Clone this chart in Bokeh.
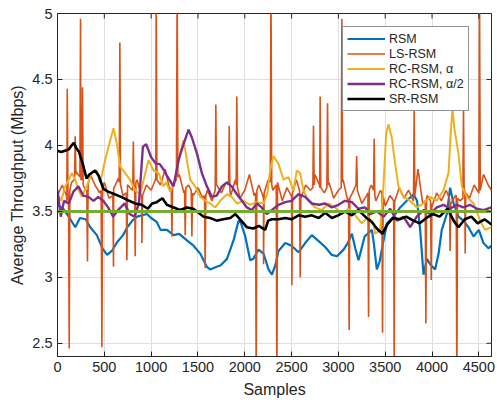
import numpy as np
from bokeh.plotting import figure
from bokeh.models import Legend, LegendItem, FixedTicker, Range1d
from bokeh.embed import file_html
from bokeh.resources import INLINE

# ---------------- data ----------------
x_ticks = [0, 500, 1000, 1500, 2000, 2500, 3000, 3500, 4000, 4500]
y_ticks = [2.5, 3.0, 3.5, 4.0, 4.5, 5.0]
y_tick_labels = {2.5: "2.5", 3.0: "3", 3.5: "3.5", 4.0: "4", 4.5: "4.5", 5.0: "5"}
n_samples = 4635
y_min, y_max = 2.4, 5.0
target_level = 3.5

rsm_x = [0, 60, 120, 190, 240, 300, 350, 420, 480, 530, 580, 640, 700, 745, 800, 850, 900, 955,
         1000, 1060, 1100, 1170, 1240, 1300, 1382, 1453, 1524, 1595, 1630, 1700, 1740, 1810, 1880,
         1934, 1960, 2005, 2058, 2090, 2147, 2200, 2254, 2290, 2330, 2360, 2432, 2500, 2574, 2645,
         2716, 2780, 2859, 2930, 2985, 3055, 3100, 3144, 3180, 3215, 3280, 3357, 3380, 3410, 3440,
         3482, 3520, 3588, 3660, 3730, 3802, 3840, 3873, 3909, 3945, 3980, 4033, 4070, 4104, 4158,
         4193, 4230, 4282, 4335, 4389, 4443, 4500, 4549, 4603, 4635]
rsm_y = [3.55, 3.52, 3.46, 3.38, 3.45, 3.44, 3.38, 3.32, 3.22, 3.17, 3.20, 3.27, 3.32, 3.38, 3.43,
         3.46, 3.47, 3.48, 3.45, 3.42, 3.36, 3.36, 3.32, 3.33, 3.28, 3.24, 3.18, 3.08, 3.06, 3.08,
         3.09, 3.14, 3.28, 3.43, 3.41, 3.31, 3.13, 3.14, 3.21, 3.18, 3.06, 3.02, 3.10, 3.20, 3.26,
         3.24, 3.19, 3.26, 3.32, 3.28, 3.23, 3.17, 3.16, 3.21, 3.26, 3.33, 3.22, 3.13, 3.31, 3.36,
         3.25, 3.06, 3.12, 3.28, 3.41, 3.46, 3.53, 3.58, 3.63, 3.58, 3.36, 3.02, 3.14, 3.10, 3.06,
         3.18, 3.36, 3.48, 3.68, 3.56, 3.46, 3.43, 3.38, 3.31, 3.36, 3.26, 3.22, 3.24]

ls_base_x = [0, 50, 100, 150, 200, 250, 300, 350, 400, 450, 500, 550, 600, 650, 700, 750, 800, 850,
             900, 950, 1000, 1050, 1100, 1150, 1200, 1250, 1300, 1350, 1400, 1450, 1500, 1550, 1600,
             1650, 1700, 1750, 1800, 1850, 1900, 1950, 2000, 2050, 2100, 2150, 2200, 2250, 2300,
             2350, 2400, 2450, 2500, 2550, 2600, 2650, 2700, 2750, 2800, 2850, 2900, 2950, 3000,
             3050, 3100, 3150, 3200, 3250, 3300, 3350, 3400, 3450, 3500, 3550, 3600, 3650, 3700,
             3750, 3800, 3850, 3900, 3950, 4000, 4050, 4100, 4150, 4200, 4250, 4300, 4350, 4400,
             4450, 4500, 4550, 4600, 4635]
ls_base_y = [3.62, 3.70, 3.58, 3.72, 3.80, 3.74, 3.66, 3.78, 3.70, 3.64, 3.72, 3.60, 3.68, 3.75,
             3.62, 3.70, 3.66, 3.74, 3.60, 3.70, 3.66, 3.76, 3.70, 3.82, 3.66, 3.72, 3.78, 3.64,
             3.70, 3.62, 3.68, 3.60, 3.66, 3.58, 3.70, 3.64, 3.72, 3.62, 3.74, 3.60, 3.66, 3.78,
             3.62, 3.70, 3.60, 3.74, 3.66, 3.72, 3.58, 3.68, 3.62, 3.74, 3.60, 3.70, 3.66, 3.78,
             3.68, 3.64, 3.72, 3.60, 3.66, 3.74, 3.58, 3.64, 3.76, 3.56, 3.62, 3.70, 3.58, 3.66,
             3.54, 3.62, 3.56, 3.68, 3.60, 3.66, 3.58, 3.82, 3.56, 3.62, 3.54, 3.64, 3.58, 3.66,
             3.56, 3.62, 3.58, 3.66, 3.60, 3.70, 3.64, 3.78, 3.70, 3.66]
ls_spike_x = [96, 104, 112, 118, 125, 132, 182, 189, 196, 239, 246, 253, 261, 267, 274,
              313, 320, 327, 466, 474, 482, 591, 598, 605, 659, 666, 673, 734, 741, 748,
              803, 810, 817, 824, 830, 837, 894, 901, 908, 1046, 1054, 1062, 1215, 1222, 1229,
              1270, 1278, 1286, 1357, 1364, 1371, 1428, 1435, 1442, 1570, 1577, 1584,
              1684, 1691, 1698, 1827, 1834, 1841, 1908, 1915, 1922, 2115, 2122, 2129,
              2193, 2200, 2207, 2272, 2280, 2288, 2336, 2343, 2350, 2496, 2503, 2510,
              2585, 2592, 2599, 2727, 2734, 2741, 2798, 2805, 2812, 2877, 2884, 2891,
              3030, 3037, 3044, 3108, 3115, 3122, 3188, 3195, 3202, 3315, 3322, 3329,
              3375, 3382, 3389, 3464, 3471, 3478, 3590, 3596, 3603, 3802, 3809, 3816,
              3927, 3934, 3941, 3984, 3991, 3998, 4186, 4193, 4200, 4258, 4265, 4272,
              4329, 4336, 4343, 4348, 4354, 4360, 4499, 4507, 4515]
ls_spike_y = [3.62, 4.43, 3.64, 3.62, 2.46, 3.66, 3.74, 4.07, 3.78, 3.76, 4.96, 3.74, 3.74, 4.44, 3.70,
              3.66, 3.12, 3.70, 3.66, 2.47, 3.68, 3.62, 3.08, 3.68, 3.72, 4.78, 3.70, 3.64, 3.13, 3.70,
              3.66, 4.03, 3.68, 3.70, 3.16, 3.72, 3.62, 3.26, 3.62, 3.74, 5.20, 3.74, 3.68, 3.31, 3.70,
              3.74, 5.20, 3.76, 3.66, 3.32, 3.68, 3.66, 3.31, 3.64, 3.62, 3.07, 3.62,
              3.66, 4.31, 3.70, 3.70, 4.15, 3.66, 3.70, 4.37, 3.68, 3.64, 2.20, 3.66,
              3.62, 3.10, 3.64, 3.72, 5.20, 3.70, 3.70, 2.20, 3.72, 3.62, 2.94, 3.64,
              3.66, 3.00, 3.62, 3.68, 4.15, 3.70, 3.70, 4.37, 3.68, 3.68, 4.32, 3.70,
              3.68, 4.96, 3.72, 3.60, 2.60, 3.60, 3.70, 3.92, 3.66, 3.64, 2.70, 3.66,
              3.66, 4.05, 3.62, 3.64, 2.58, 3.62, 3.58, 2.20, 3.58, 3.60, 4.27, 3.62,
              3.58, 2.65, 3.60, 3.58, 2.98, 3.56, 3.60, 3.20, 3.56, 3.62, 2.20, 3.60,
              3.60, 4.27, 3.64, 3.64, 3.18, 3.64, 3.64, 5.20, 3.66]

rca_x = [0, 40, 82, 120, 153, 190, 225, 260, 310, 367, 420, 456, 509, 563, 598, 635, 670, 723, 775,
         830, 885, 937, 972, 1025, 1080, 1132, 1160, 1204, 1257, 1311, 1346, 1382, 1417, 1470, 1524,
         1578, 1631, 1685, 1738, 1809, 1860, 1916, 1987, 2058, 2129, 2200, 2240, 2271, 2307, 2360,
         2414, 2467, 2520, 2556, 2591, 2627, 2680, 2752, 2823, 2894, 2965, 3037, 3108, 3179, 3250,
         3318, 3375, 3392, 3446, 3481, 3510, 3535, 3570, 3606, 3642, 3695, 3766, 3837, 3909, 3980,
         4051, 4122, 4176, 4200, 4218, 4240, 4282, 4318, 4371, 4443, 4514, 4565, 4635]
rca_y = [3.63, 3.58, 3.69, 3.74, 3.79, 3.74, 3.66, 3.61, 3.69, 3.79, 3.81, 3.72, 3.89, 4.04, 4.13,
         4.01, 3.84, 3.79, 3.74, 3.66, 3.63, 3.79, 3.89, 3.81, 3.79, 3.69, 3.72, 3.65, 3.74, 3.94,
         4.04, 3.89, 3.74, 3.69, 3.61, 3.58, 3.56, 3.53, 3.58, 3.63, 3.61, 3.56, 3.58, 3.55, 3.57,
         3.56, 3.63, 3.81, 3.92, 3.86, 3.74, 3.76, 3.66, 3.81, 3.79, 3.66, 3.58, 3.53, 3.51, 3.56,
         3.53, 3.48, 3.52, 3.47, 3.41, 3.46, 3.41, 3.33, 3.36, 3.69, 4.09, 4.16, 4.06, 3.86, 3.69,
         3.61, 3.58, 3.53, 3.56, 3.61, 3.58, 3.66, 3.79, 4.10, 4.28, 4.12, 3.94, 3.69, 3.61, 3.56,
         3.43, 3.36, 3.38]

rch_x = [0, 35, 70, 120, 170, 223, 275, 330, 385, 435, 490, 540, 595, 647, 717, 770, 823, 870, 912,
         947, 1000, 1053, 1090, 1140, 1168, 1240, 1293, 1346, 1400, 1435, 1489, 1542, 1595, 1649,
         1700, 1756, 1809, 1860, 1916, 1970, 2022, 2075, 2129, 2180, 2236, 2289, 2360, 2432, 2500,
         2574, 2645, 2716, 2790, 2859, 2930, 3001, 3070, 3144, 3215, 3286, 3339, 3410, 3482, 3553,
         3624, 3695, 3766, 3837, 3909, 3980, 4051, 4122, 4193, 4264, 4335, 4406, 4478, 4549, 4635]
rch_y = [3.66, 3.46, 3.58, 3.56, 3.65, 3.69, 3.62, 3.61, 3.58, 3.61, 3.58, 3.53, 3.46, 3.51, 3.56,
         3.48, 3.46, 3.56, 3.99, 4.01, 3.91, 3.86, 3.86, 3.81, 3.77, 3.69, 3.89, 4.01, 4.12, 4.06,
         3.94, 3.79, 3.69, 3.61, 3.62, 3.69, 3.72, 3.69, 3.63, 3.58, 3.53, 3.51, 3.56, 3.53, 3.48,
         3.51, 3.55, 3.57, 3.58, 3.63, 3.61, 3.56, 3.55, 3.56, 3.53, 3.55, 3.58, 3.57, 3.52, 3.53,
         3.48, 3.50, 3.46, 3.52, 3.43, 3.46, 3.38, 3.46, 3.51, 3.48, 3.53, 3.55, 3.52, 3.55, 3.53,
         3.55, 3.52, 3.51, 3.53]

sr_x = [0, 40, 80, 120, 150, 175, 200, 230, 270, 310, 340, 400, 440, 490, 540, 610, 680, 750, 830,
        900, 965, 1010, 1060, 1120, 1168, 1240, 1310, 1380, 1450, 1506, 1560, 1630, 1700, 1770, 1845,
        1900, 1950, 2022, 2090, 2150, 2218, 2250, 2290, 2360, 2432, 2500, 2574, 2645, 2715, 2790,
        2859, 2930, 2998, 3070, 3144, 3214, 3286, 3357, 3410, 3470, 3520, 3584, 3655, 3725, 3800,
        3868, 3940, 4010, 4080, 4167, 4230, 4282, 4350, 4420, 4487, 4560, 4635]
sr_y = [3.96, 3.95, 3.96, 3.97, 4.00, 4.02, 3.98, 3.95, 3.86, 3.75, 3.78, 3.81, 3.77, 3.67, 3.65,
        3.63, 3.61, 3.585, 3.56, 3.55, 3.52, 3.56, 3.57, 3.60, 3.55, 3.53, 3.51, 3.53, 3.52, 3.49,
        3.46, 3.45, 3.43, 3.44, 3.45, 3.48, 3.44, 3.38, 3.37, 3.39, 3.36, 3.43, 3.44, 3.44, 3.45,
        3.44, 3.47, 3.46, 3.47, 3.45, 3.49, 3.45, 3.47, 3.50, 3.47, 3.51, 3.46, 3.42, 3.37, 3.33,
        3.40, 3.45, 3.44, 3.46, 3.43, 3.41, 3.45, 3.48, 3.46, 3.52, 3.43, 3.38, 3.44, 3.46, 3.41,
        3.44, 3.40]

# ---------------- figure ----------------
FONT = "Liberation Sans"
TXT = "#262626"

p = figure(width=497, height=403, output_backend="svg", toolbar_location=None,
           x_range=Range1d(0, n_samples), y_range=Range1d(y_min, y_max),
           min_border_left=57, min_border_right=6, min_border_top=13, min_border_bottom=47)
p.background_fill_color = "white"
p.border_fill_color = "white"
p.outline_line_color = TXT
p.outline_line_width = 1

# merge LS-RSM base samples and spike samples in sample order
ls_x_all = np.array(ls_base_x + ls_spike_x, dtype=float)
ls_y_all = np.array(ls_base_y + ls_spike_y, dtype=float)
order = np.argsort(ls_x_all, kind="stable")
ls_x = ls_x_all[order]
ls_y = ls_y_all[order]

r_rsm = p.line(rsm_x, rsm_y, line_color="#0072BD", line_width=2.2)
r_ls = p.line(ls_x, ls_y, line_color="#D95319", line_width=1.6)
r_rca = p.line(rca_x, rca_y, line_color="#EDB120", line_width=2.0)
r_rch = p.line(rch_x, rch_y, line_color="#7E2F8E", line_width=2.4)
r_sr = p.line(sr_x, sr_y, line_color="black", line_width=2.6)
p.line([0, n_samples], [target_level, target_level], line_color="#77AC30", line_width=3)

# inward ticks on the top and right edges (MATLAB box style)
p.ray(x=x_ticks, y=[y_max] * len(x_ticks), length=5, length_units="screen",
      angle=-np.pi / 2, line_color=TXT, line_width=1)
p.ray(x=[n_samples] * len(y_ticks), y=y_ticks, length=5, length_units="screen",
      angle=np.pi, line_color=TXT, line_width=1)

# axes
for ax in (p.xaxis[0], p.yaxis[0]):
    ax.axis_line_color = TXT
    ax.major_tick_line_color = TXT
    ax.minor_tick_line_color = None
    ax.major_tick_in = 5
    ax.major_tick_out = 0
    ax.major_label_text_font = FONT
    ax.major_label_text_font_size = "14.5px"
    ax.major_label_text_color = TXT
    ax.axis_label_text_font = FONT
    ax.axis_label_text_font_size = "16px"
    ax.axis_label_text_font_style = "normal"
    ax.axis_label_text_color = TXT

p.xaxis.ticker = FixedTicker(ticks=x_ticks)
p.yaxis.ticker = FixedTicker(ticks=y_ticks)
p.yaxis.major_label_overrides = y_tick_labels
p.xaxis.axis_label = "Samples"
p.yaxis.axis_label = "Average Throughput (Mbps)"
p.xaxis.major_label_standoff = 5
p.xaxis.axis_label_standoff = 6
p.yaxis.major_label_standoff = 5
p.yaxis.axis_label_standoff = 3

p.xgrid.ticker = FixedTicker(ticks=x_ticks)
p.ygrid.ticker = FixedTicker(ticks=y_ticks)
p.grid.grid_line_color = "#dfdfdf"
p.grid.grid_line_width = 1

legend = Legend(items=[
    LegendItem(label="RSM", renderers=[r_rsm]),
    LegendItem(label="LS-RSM", renderers=[r_ls]),
    LegendItem(label="RC-RSM, α", renderers=[r_rca]),
    LegendItem(label="RC-RSM, α/2", renderers=[r_rch]),
    LegendItem(label="SR-RSM", renderers=[r_sr]),
], location=(285, 245))
legend.margin = 0
legend.padding = 4
legend.spacing = 0
legend.glyph_width = 38
legend.glyph_height = 15
legend.label_height = 15
legend.label_standoff = 4
legend.label_text_font = FONT
legend.label_text_font_size = "12.5px"
legend.label_text_color = TXT
legend.border_line_color = TXT
legend.border_line_width = 1
legend.background_fill_color = "white"
legend.background_fill_alpha = 1
p.add_layout(legend, "center")

open("out.html", "w").write(file_html(p, INLINE))
